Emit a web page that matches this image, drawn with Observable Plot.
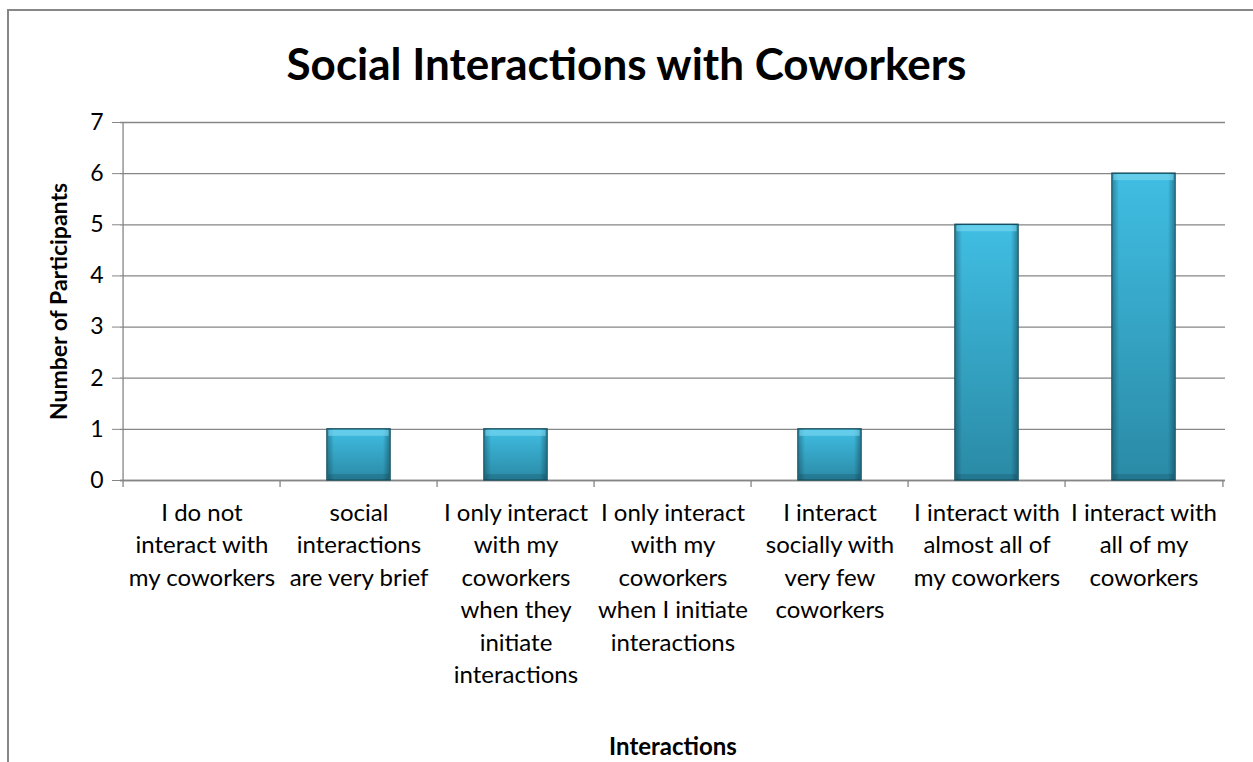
<!DOCTYPE html>
<html>
<head>
<meta charset="utf-8">
<script src="https://cdn.jsdelivr.net/npm/d3@7"></script>
<script src="https://cdn.jsdelivr.net/npm/@observablehq/plot@0.6"></script>
<style>
  html, body { margin: 0; padding: 0; background: #fff; }
  #wrap { position: relative; width: 1253px; height: 762px; overflow: hidden; font-family: Lato, sans-serif; }
  #frame { position: absolute; left: 7px; top: 9px; width: 1300px; height: 800px; border: 2px solid #878787; box-sizing: border-box; }
  #title { position: absolute; left: 0; top: 0; width: 1253px; height: 100px; text-align: center; font: bold 44px Lato, sans-serif; line-height: 126px; color: #000; }
  #chart { position: absolute; left: 0; top: 100px; }
  #chart svg { font-family: Lato, sans-serif; }
  #chart [aria-label="y-axis label"] text { font-weight: bold; }
</style>
</head>
<body>
<div id="wrap">
  <div id="frame"></div>
  <div id="title">Social Interactions with Coworkers</div>
  <div id="chart"></div>
</div>
<script>
const categories = [
  "I do not\ninteract with\nmy coworkers",
  "social\ninteractions\nare very brief",
  "I only interact\nwith my\ncoworkers\nwhen they\ninitiate\ninteractions",
  "I only interact\nwith my\ncoworkers\nwhen I initiate\ninteractions",
  "I interact\nsocially with\nvery few\ncoworkers",
  "I interact with\nalmost all of\nmy coworkers",
  "I interact with\nall of my\ncoworkers"
];
const values = [0, 1, 1, 0, 1, 5, 6];
const yTicks = [0, 1, 2, 3, 4, 5, 6, 7];

const data = categories.map((c, i) => ({category: c, value: values[i]}));

const W = 1253, H = 662, ML = 120, MR = 28, MT = 22, MB = 282;
const step = (W - ML - MR) / categories.length;
const barInset = (step - 64) / 2;
const shown = data.filter(d => d.value > 0);

const chart = Plot.plot({
  width: W,
  height: H,
  marginLeft: ML,
  marginRight: MR,
  marginTop: MT,
  marginBottom: MB,
  style: {fontFamily: "Lato, sans-serif", fontSize: "24px", color: "#000", background: "transparent"},
  x: {domain: categories, padding: 0, label: null},
  y: {domain: [0, 7], label: null},
  marks: [
    Plot.gridY(yTicks, {stroke: "#868686", strokeOpacity: 1, strokeWidth: 1.3}),
    Plot.ruleX([0], {x: () => categories[0], dx: -step / 2, y1: 0, y2: 7, stroke: "#868686", strokeWidth: 1.3}),
    Plot.ruleY([0], {stroke: "#868686", strokeWidth: 1.3}),
    Plot.ruleX(categories, {x: d => d, dx: -step / 2, y1: 0, y2: 0, insetBottom: -7, stroke: "#868686", strokeWidth: 1.3}),
    Plot.ruleX([categories[categories.length - 1]], {x: d => d, dx: step / 2, y1: 0, y2: 0, insetBottom: -7, stroke: "#868686", strokeWidth: 1.3}),
    Plot.barY(shown, {
      x: "category", y: "value",
      insetLeft: barInset, insetRight: barInset,
      fill: "url(#barGrad)", stroke: "#174f5f", strokeWidth: 1.4,
      style: "filter:url(#barShadow)"
    }),
    Plot.barY(shown, {
      x: "category", y: "value",
      insetLeft: barInset + 1, insetRight: barInset + 1,
      fill: "url(#edgeGrad)"
    }),
    Plot.barY(shown, {
      x: "category", y1: "value", y2: "value",
      insetLeft: barInset + 1.5, insetRight: barInset + 1.5, insetBottom: -7, insetTop: 1,
      fill: "#7dd8f2", fillOpacity: 0.6
    }),
    Plot.barY(shown, {
      x: "category", y1: 0, y2: 0,
      insetLeft: barInset + 1.5, insetRight: barInset + 1.5, insetTop: -6, insetBottom: 1,
      fill: "#0b3340", fillOpacity: 0.2
    }),
    Plot.axisY(yTicks, {
      tickSize: 8, tickPadding: 9, stroke: "#868686", fontSize: 23,
      tickFormat: d => String(d),
      label: "Number of Participants", labelAnchor: "center", labelArrow: "none", labelOffset: 70
    }),
    Plot.axisX({
      tickSize: 0, tickPadding: 17, fontSize: 24, lineHeight: 1.355,
      tickFormat: d => d, label: null
    }),
    Plot.text(["Interactions"], {
      frameAnchor: "bottom", dy: 274, text: d => d, fontWeight: "bold", fontSize: 24
    })
  ]
});

const svg = d3.select(chart);
const defs = svg.insert("defs", ":first-child");
const g = defs.append("linearGradient").attr("id", "barGrad").attr("x1", 0).attr("y1", 0).attr("x2", 0).attr("y2", 1);
g.append("stop").attr("offset", "0%").attr("stop-color", "#40bee3");
g.append("stop").attr("offset", "100%").attr("stop-color", "#2a8aa5");
const e = defs.append("linearGradient").attr("id", "edgeGrad").attr("x1", 0).attr("y1", 0).attr("x2", 1).attr("y2", 0);
e.append("stop").attr("offset", "0%").attr("stop-color", "#0b3340").attr("stop-opacity", 0.35);
e.append("stop").attr("offset", "10%").attr("stop-color", "#0b3340").attr("stop-opacity", 0);
e.append("stop").attr("offset", "90%").attr("stop-color", "#0b3340").attr("stop-opacity", 0);
e.append("stop").attr("offset", "100%").attr("stop-color", "#0b3340").attr("stop-opacity", 0.4);
const f = defs.append("filter").attr("id", "barShadow").attr("x", "-20%").attr("y", "-10%").attr("width", "140%").attr("height", "130%");
f.append("feDropShadow").attr("dx", 0).attr("dy", 2).attr("stdDeviation", 2.5).attr("flood-color", "#000").attr("flood-opacity", 0.3);

document.getElementById("chart").appendChild(chart);
</script>
</body>
</html>
